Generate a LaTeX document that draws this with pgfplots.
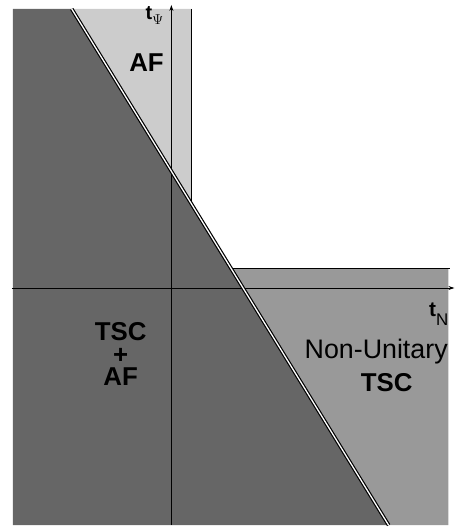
\documentclass[border=0pt]{standalone}
\usepackage{fontspec}
\setmainfont{Liberation Sans}
\usepackage{pgfplots}
\pgfplotsset{compat=1.18}
\usetikzlibrary{arrows.meta}
\definecolor{darkreg}{gray}{0.40}
\definecolor{lightreg}{gray}{0.80}
\definecolor{midreg}{gray}{0.60}
\begin{document}
\begin{tikzpicture}
\begin{axis}[
  scale only axis, width=456bp, height=527bp,
  xmin=-1.72, xmax=2.84, ymin=-2.38, ymax=2.89,
  hide axis, clip=false,
]
\path (axis cs:-1.72,-2.38) rectangle (axis cs:2.84,2.89);
% TSC + AF region (dark)
\addplot[fill=darkreg, draw=none] coordinates {(-1.59,2.80) (-1.00,2.80) (2.18,-2.38) (-1.59,-2.38)} -- cycle;
% AF region (light)
\addplot[fill=lightreg, draw=none] coordinates {(-1.00,2.80) (0.20,2.80) (0.20,0.844)} -- cycle;
% Non-unitary TSC region (medium)
\addplot[fill=midreg, draw=none] coordinates {(0.596,0.20) (2.78,0.20) (2.78,-2.38) (2.18,-2.38)} -- cycle;
% boundaries
\addplot[black, line width=1.1pt] coordinates {(0.20,2.80) (0.20,0.844)};
\addplot[black, line width=1.1pt] coordinates {(0.596,0.20) (2.80,0.20)};
% axes
\addplot[black, line width=0.7pt, -{Stealth[length=6pt,width=4pt]}] coordinates {(-1.60,0) (2.84,0)};
\addplot[black, line width=0.7pt, -{Stealth[length=6pt,width=4pt]}] coordinates {(0,-2.38) (0,2.84)};
% diagonal double line
\addplot[draw=black, double=white, line width=1.2pt, double distance=1.3pt] coordinates {(-1.00,2.80) (2.18,-2.38)};
% labels
\node[anchor=base west, inner sep=0] at (axis cs:-0.26,2.69) {\fontsize{20}{20}\selectfont\bfseries t\raisebox{-5pt}{\fontsize{15}{15}\selectfont$\Psi$}};
\node[inner sep=0] at (axis cs:-0.25,2.26) {\fontsize{26}{26}\selectfont\bfseries AF};
\node[anchor=base west, inner sep=0] at (axis cs:2.585,-0.29) {\fontsize{21}{21}\selectfont\bfseries t\raisebox{-9pt}{\fontsize{17}{17}\selectfont\mdseries N}};
\node[inner sep=0] at (axis cs:2.055,-0.64) {\fontsize{27}{27}\selectfont Non-Unitary};
\node[inner sep=0] at (axis cs:2.16,-0.95) {\fontsize{26}{26}\selectfont\bfseries TSC};
\node[inner sep=0, align=center, font=\fontsize{26}{22.5}\selectfont\bfseries] at (axis cs:-0.51,-0.665) {TSC\\+\\AF};
\end{axis}
\end{tikzpicture}
\end{document}
